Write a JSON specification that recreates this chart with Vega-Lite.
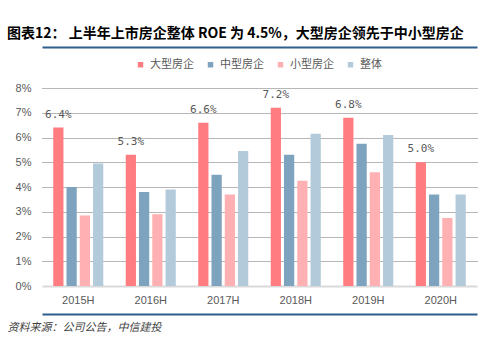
{
  "$schema": "https://vega.github.io/schema/vega-lite/v6.json",
  "width": 435,
  "height": 198,
  "autosize": "none",
  "padding": {"left": 42, "top": 88, "right": 23, "bottom": 76},
  "background": "white",
  "config": {"view": {"stroke": null}, "font": "Liberation Sans"},
  "title": {
    "text": "图表12： 上半年上市房企整体 ROE 为 4.5%，大型房企领先于中小型房企",
    "anchor": "start",
    "frame": "group",
    "dx": -35,
    "offset": 6,
    "font": "Noto Sans CJK SC",
    "fontSize": 14,
    "fontWeight": "bold",
    "color": "#000000"
  },
  "data": {
    "values": [
      {"year": "2015H", "series": "大型房企", "value": 0.064},
      {"year": "2016H", "series": "大型房企", "value": 0.053},
      {"year": "2017H", "series": "大型房企", "value": 0.066},
      {"year": "2018H", "series": "大型房企", "value": 0.072},
      {"year": "2019H", "series": "大型房企", "value": 0.068},
      {"year": "2020H", "series": "大型房企", "value": 0.050},
      {"year": "2015H", "series": "中型房企", "value": 0.040},
      {"year": "2016H", "series": "中型房企", "value": 0.038},
      {"year": "2017H", "series": "中型房企", "value": 0.045},
      {"year": "2018H", "series": "中型房企", "value": 0.053},
      {"year": "2019H", "series": "中型房企", "value": 0.0575},
      {"year": "2020H", "series": "中型房企", "value": 0.037},
      {"year": "2015H", "series": "小型房企", "value": 0.0285},
      {"year": "2016H", "series": "小型房企", "value": 0.029},
      {"year": "2017H", "series": "小型房企", "value": 0.037},
      {"year": "2018H", "series": "小型房企", "value": 0.0425},
      {"year": "2019H", "series": "小型房企", "value": 0.046},
      {"year": "2020H", "series": "小型房企", "value": 0.0275},
      {"year": "2015H", "series": "整体", "value": 0.0495},
      {"year": "2016H", "series": "整体", "value": 0.039},
      {"year": "2017H", "series": "整体", "value": 0.0545},
      {"year": "2018H", "series": "整体", "value": 0.0615},
      {"year": "2019H", "series": "整体", "value": 0.061},
      {"year": "2020H", "series": "整体", "value": 0.037}
    ]
  },
  "encoding": {
    "y": {
      "field": "value",
      "type": "quantitative",
      "scale": {"domain": [0, 0.08], "nice": false},
      "axis": {
        "values": [0, 0.01, 0.02, 0.03, 0.04, 0.05, 0.06, 0.07, 0.08],
        "labelOverlap": false,
        "format": ".0%",
        "domain": false,
        "ticks": false,
        "labelPadding": 11,
        "labelFontSize": 11,
        "labelColor": "#595959",
        "title": null,
        "gridColor": {"condition": {"test": "datum.value === 0", "value": "#d9d9d9"}, "value": "#6e6e6e"},
        "gridDash": {"condition": {"test": "datum.value === 0", "value": []}, "value": [1, 1]},
        "gridWidth": {"condition": {"test": "datum.value === 0", "value": 2}, "value": 1}
      }
    },
    "xOffset": {
      "field": "series",
      "sort": ["大型房企", "中型房企", "小型房企", "整体"],
      "scale": {"paddingInner": 0.23, "paddingOuter": 0}
    }
  },
  "layer": [
    {
      "mark": {"type": "bar"},
      "encoding": {
        "x": {
          "field": "year",
          "type": "nominal",
          "scale": {"paddingInner": 0.31, "paddingOuter": 0.155},
          "axis": {
            "orient": "bottom",
            "offset": 28,
            "domainColor": "#2E5E8C",
            "domainWidth": 2,
            "ticks": false,
            "grid": false,
            "labelAngle": 0,
            "labelPadding": -20,
            "labelFontSize": 11,
            "labelColor": "#595959",
            "title": "资料来源：公司公告，中信建投",
            "titleFont": "Noto Sans CJK SC",
            "titleFontStyle": "italic",
            "titleFontWeight": "normal",
            "titleFontSize": 11,
            "titleColor": "#404040",
            "titleAnchor": "start",
            "titleAlign": "left",
            "titleBaseline": "middle",
            "titleX": -35,
            "titleY": 13
          }
        },
        "color": {
          "field": "series",
          "type": "nominal",
          "sort": ["大型房企", "中型房企", "小型房企", "整体"],
          "scale": {
            "domain": ["大型房企", "中型房企", "小型房企", "整体"],
            "range": ["#FF7C80", "#7DA3BE", "#FFB0B3", "#B3CADB"]
          },
          "legend": {
            "orient": "none",
            "legendX": 93,
            "legendY": -29,
            "direction": "horizontal",
            "title": null,
            "symbolType": "square",
            "symbolSize": 30,
            "symbolStrokeWidth": 0,
            "labelFont": "Noto Sans CJK SC",
            "labelFontSize": 11,
            "labelColor": "#595959",
            "columnPadding": 11
          }
        }
      }
    },
    {
      "transform": [{"filter": "datum.series === '大型房企'"}],
      "mark": {"type": "text", "dy": -13, "font": "DejaVu Sans Mono", "fontSize": 11, "color": "#595959"},
      "encoding": {
        "x": {
          "field": "year",
          "type": "nominal",
          "axis": {
            "orient": "top",
            "offset": 41,
            "domainColor": "#2E5E8C",
            "domainWidth": 2,
            "labels": false,
            "ticks": false,
            "grid": false,
            "title": null
          }
        },
        "text": {"field": "value", "type": "quantitative", "format": ".1%"}
      }
    }
  ],
  "resolve": {"axis": {"x": "independent"}}
}
